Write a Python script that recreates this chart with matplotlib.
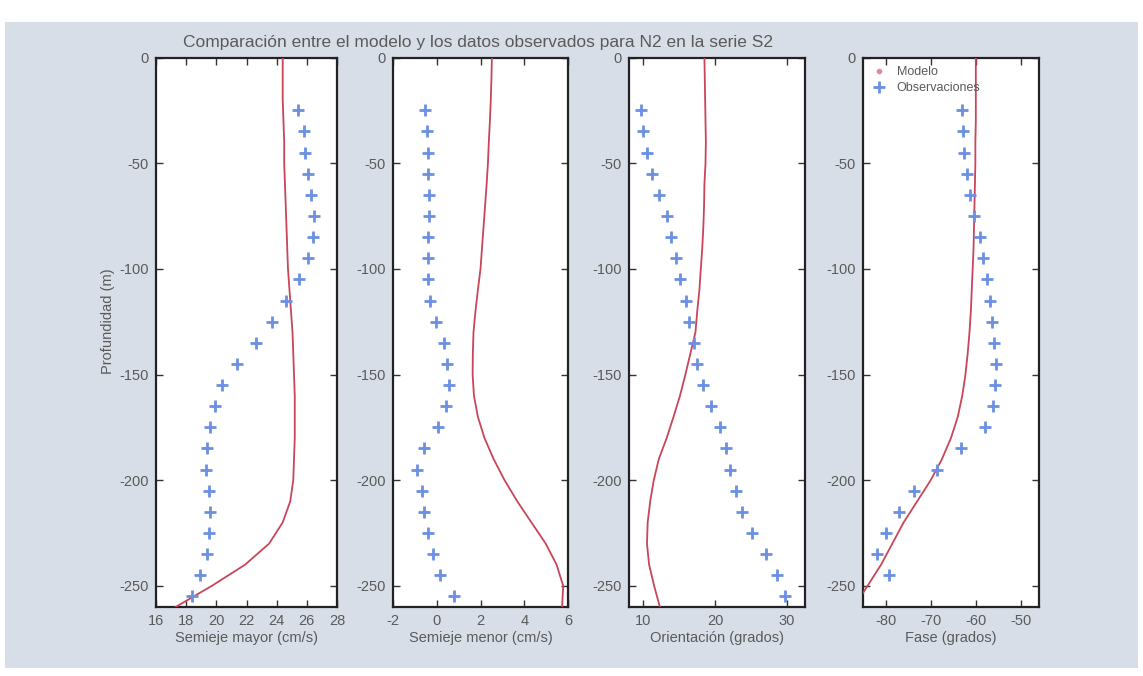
import matplotlib
matplotlib.use("Agg")
import matplotlib.pyplot as plt
from matplotlib.lines import Line2D
from matplotlib.patches import Rectangle

plt.rcParams['font.family'] = ['Liberation Sans', 'DejaVu Sans']
plt.rcParams['axes.unicode_minus'] = False

# ---------------- data ----------------
model_depth = [0, -10, -20, -30, -40, -50, -60, -70, -80, -90, -100, -110, -120, -130,
               -140, -150, -160, -170, -180, -190, -200, -210, -220, -230, -240, -250, -260]
obs_depth = [-25, -35, -45, -55, -65, -75, -85, -95, -105, -115, -125, -135,
             -145, -155, -165, -175, -185, -195, -205, -215, -225, -235, -245, -255]

# Semieje mayor (cm/s)
mayor_model = [24.4, 24.4, 24.4, 24.45, 24.5, 24.5, 24.55, 24.6, 24.65, 24.7, 24.75, 24.85,
               24.95, 25.05, 25.1, 25.15, 25.2, 25.2, 25.2, 25.15, 25.1, 24.9, 24.4, 23.5,
               21.9, 19.7, 17.3]
mayor_obs = [25.4, 25.8, 25.9, 26.1, 26.3, 26.5, 26.4, 26.1, 25.5, 24.6, 23.7, 22.6,
             21.4, 20.4, 19.9, 19.6, 19.4, 19.3, 19.5, 19.6, 19.5, 19.4, 18.9, 18.4]

# Semieje menor (cm/s)
menor_model = [2.52, 2.50, 2.47, 2.43, 2.38, 2.34, 2.28, 2.21, 2.14, 2.07, 2.00, 1.88,
               1.77, 1.68, 1.65, 1.64, 1.70, 1.88, 2.18, 2.60, 3.10, 3.68, 4.33, 4.98,
               5.48, 5.78, 5.73]
menor_obs = [-0.55, -0.45, -0.38, -0.38, -0.35, -0.35, -0.42, -0.42, -0.42, -0.30, -0.03,
             0.34, 0.46, 0.54, 0.43, 0.05, -0.57, -0.90, -0.69, -0.59, -0.39, -0.16, 0.15, 0.78]

# Orientación (grados)
orient_model = [18.5, 18.55, 18.6, 18.65, 18.7, 18.65, 18.5, 18.45, 18.35, 18.2, 18.0, 17.8,
                17.5, 17.25, 16.55, 15.85, 15.1, 14.2, 13.25, 12.15, 11.45, 10.95, 10.6,
                10.5, 10.8, 11.5, 12.3]
orient_obs = [9.64, 9.92, 10.47, 11.17, 12.23, 13.26, 13.86, 14.56, 15.12, 15.91, 16.4,
              17.06, 17.53, 18.28, 19.41, 20.64, 21.53, 22.0, 22.85, 23.70, 25.11, 27.03,
              28.55, 29.72]

# Fase (grados)
fase_model = [-60.0, -60.0, -60.0, -60.0, -60.1, -60.1, -60.2, -60.3, -60.4, -60.5, -60.7,
              -60.9, -61.1, -61.4, -61.8, -62.3, -63.0, -64.0, -65.5, -67.5, -70.0, -73.0,
              -76.0, -78.5, -81.0, -84.0, -87.0]
fase_obs = [-63.1, -62.9, -62.7, -62.0, -61.3, -60.4, -59.1, -58.3, -57.6, -56.9, -56.5,
            -56.0, -55.6, -55.8, -56.2, -58.0, -63.3, -68.6, -73.6, -77.1, -79.9, -81.9, -79.3]
fase_obs_depth = obs_depth[:len(fase_obs)]

panels = [
    (mayor_model, mayor_obs, obs_depth, (16, 28), [16, 18, 20, 22, 24, 26, 28],
     'Semieje mayor (cm/s)'),
    (menor_model, menor_obs, obs_depth, (-2, 6), [-2, 0, 2, 4, 6],
     'Semieje menor (cm/s)'),
    (orient_model, orient_obs, obs_depth, (8, 32.5), [10, 20, 30],
     'Orientación (grados)'),
    (fase_model, fase_obs, fase_obs_depth, (-85, -46), [-80, -70, -60, -50],
     'Fase (grados)'),
]
yticks = [0, -50, -100, -150, -200, -250]

# ---------------- layout ----------------
W, H = 1143, 676
fig = plt.figure(figsize=(W / 100, H / 100), dpi=100)
fig.patch.set_facecolor('white')
fig.add_artist(Rectangle((5 / W, 8 / H), 1133 / W, 646 / H, transform=fig.transFigure,
                         facecolor='#d8dee8', edgecolor='none', zorder=-10))

lefts = [156, 393, 629, 863]
rights = [337, 568, 805, 1039]
top_px, bot_px = 57.5, 607

red = '#c8455a'
blue = '#6b8fe2'
txt = '#5a5a5a'

axes = []
for i, (mm, ob, od, xl, xt, lab) in enumerate(panels):
    ax = fig.add_axes([lefts[i] / W, 1 - bot_px / H, (rights[i] - lefts[i]) / W,
                       (bot_px - top_px) / H])
    ax.set_facecolor('white')
    ax.plot(mm, model_depth, color=red, lw=1.3, zorder=3)
    ax.plot(ob, od, linestyle='none', marker='+', ms=9, mew=2.0, color=blue, zorder=4)
    ax.set_xlim(*xl)
    ax.set_ylim(-260, 0)
    ax.set_xticks(xt)
    ax.set_yticks(yticks)
    ax.tick_params(direction='in', top=True, right=True, length=5, width=1.0,
                   labelsize=10.5, labelcolor=txt, color='#333333', pad=5)
    for s in ax.spines.values():
        s.set_linewidth(1.6)
        s.set_color('#222222')
    ax.set_xlabel(lab, fontsize=10.5, color=txt, labelpad=2)
    axes.append(ax)

axes[0].set_ylabel('Profundidad (m)', fontsize=10.5, color=txt, va='center')
axes[0].yaxis.set_label_coords(-0.265, 0.52)

fig.text(478 / W, 1 - 43 / H, 'Comparación entre el modelo y los datos observados para N2 en la serie S2',
         ha='center', va='center', fontsize=12.5, color=txt)

handles = [Line2D([], [], linestyle='none', marker='.', ms=6, color='#e08a96'),
           Line2D([], [], linestyle='none', marker='+', ms=8, mew=2.0, color=blue)]
axes[3].legend(handles, ['Modelo', 'Observaciones'], loc='upper left', frameon=False,
               fontsize=9, labelcolor=txt, handlelength=1.2, handletextpad=0.8,
               borderaxespad=0.3, labelspacing=0.3, bbox_to_anchor=(0.0, 1.0))

fig.savefig('out.png', dpi=100, facecolor=fig.get_facecolor())
